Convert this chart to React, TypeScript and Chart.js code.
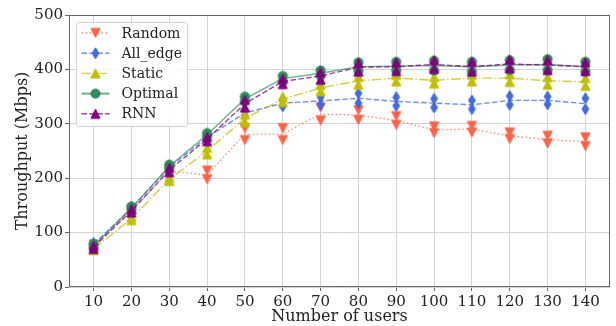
import { useEffect, useRef } from "react";
import { Chart, registerables } from "chart.js";

Chart.register(...registerables);

// ---------- data ----------
const users = [10, 20, 30, 40, 50, 60, 70, 80, 90, 100, 110, 120, 130, 140];
const yTicks = [0, 100, 200, 300, 400, 500];
const seriesNames = ["Random", "All_edge", "Static", "Optimal", "RNN"];

const randomMean = [75, 140, 213, 206, 281, 281, 318, 316, 306, 289, 290, 278, 271, 267];
const randomSpread = [3, 3, 3, 8, 11, 11, 12, 9, 8, 6, 6, 6, 7, 8];

const allEdgeMean = [78, 145, 220, 275, 320, 338, 342, 347, 341, 338, 335, 343, 343, 337];
const allEdgeSpread = [3, 3, 3, 4, 5, 6, 7, 9, 8, 8, 8, 8, 7, 10];

const staticMean = [70, 126, 198, 250, 310, 345, 366, 379, 384, 380, 384, 384, 379, 377];
const staticSpread = [2, 3, 3, 6, 7, 5, 6, 7, 6, 6, 6, 7, 7, 7];

const optimalMean = [76, 145, 222, 280, 346, 383, 393, 405, 406, 407, 405, 408, 409, 405];
const optimalSpread = [3, 3, 3, 3, 4, 5, 5, 8, 8, 9, 9, 9, 10, 9];

const rnnMean = [73, 140, 215, 272, 337, 378, 388, 404, 405, 409, 405, 410, 408, 405];
const rnnSpread = [3, 3, 4, 4, 7, 5, 7, 8, 8, 8, 9, 8, 9, 8];

const means = [randomMean, allEdgeMean, staticMean, optimalMean, rnnMean];
const spreads = [randomSpread, allEdgeSpread, staticSpread, optimalSpread, rnnSpread];

// ---------- styles ----------
const colors = ["#ff6347", "#4169e1", "#bfbf00", "#2e8b57", "#800080"];
const lineColors = [
  "rgba(255,99,71,0.7)",
  "rgba(65,105,225,0.75)",
  "rgba(191,191,0,0.75)",
  "rgba(46,139,87,0.7)",
  "rgba(128,0,128,0.75)",
];
const dashes = [[1.5, 2.5], [5.5, 2.4], [9.6, 2.4, 1.5, 2.4], [], [5.5, 2.4]];
const shapes = ["tri_down", "thin_diamond", "tri_up", "circle", "tri_up"];
const FONT = '"DejaVu Serif", serif';

function makeMarker(shape: string, color: string): HTMLCanvasElement {
  const c = document.createElement("canvas");
  c.width = 13;
  c.height = 13;
  const ctx = c.getContext("2d")!;
  ctx.fillStyle = color;
  ctx.strokeStyle = color;
  ctx.lineWidth = 1;
  ctx.beginPath();
  const m = 6.5;
  if (shape === "tri_up") {
    ctx.moveTo(m, m - 4.6);
    ctx.lineTo(m - 4.6, m + 4.6);
    ctx.lineTo(m + 4.6, m + 4.6);
    ctx.closePath();
  } else if (shape === "tri_down") {
    ctx.moveTo(m, m + 4.6);
    ctx.lineTo(m - 4.6, m - 4.6);
    ctx.lineTo(m + 4.6, m - 4.6);
    ctx.closePath();
  } else if (shape === "thin_diamond") {
    ctx.moveTo(m, m - 5.5);
    ctx.lineTo(m + 3.4, m);
    ctx.lineTo(m, m + 5.5);
    ctx.lineTo(m - 3.4, m);
    ctx.closePath();
  } else {
    ctx.arc(m, m, 4.6, 0, Math.PI * 2);
  }
  ctx.fill();
  ctx.stroke();
  return c;
}

export default function App() {
  const ref = useRef<HTMLCanvasElement | null>(null);

  useEffect(() => {
    if (!ref.current) return;
    const markers = shapes.map((s, i) => makeMarker(s, colors[i]));

    const datasets: any[] = [];
    seriesNames.forEach((name, i) => {
      datasets.push({
        label: name,
        data: users.map((x, k) => ({ x, y: means[i][k] })),
        borderColor: lineColors[i],
        borderWidth: 1.4,
        borderDash: dashes[i],
        pointRadius: 0,
        fill: false,
        tension: 0,
        order: (5 - i) * 2 + 1,
      });
      datasets.push({
        label: name + " markers",
        data: users.flatMap((x, k) => [
          { x, y: means[i][k] + spreads[i][k] },
          { x, y: means[i][k] - spreads[i][k] },
        ]),
        showLine: false,
        pointStyle: markers[i],
        pointRadius: 5,
        order: (5 - i) * 2,
      });
    });

    const framePlugin = {
      id: "frameLegend",
      afterDraw(chart: any) {
        const { ctx, chartArea } = chart;
        const { left, top, right, bottom } = chartArea;
        ctx.save();
        ctx.strokeStyle = "#666";
        ctx.lineWidth = 1;
        ctx.strokeRect(left + 0.5, top + 0.5, right - left - 1, bottom - top - 1);

        // legend
        const bx = left + 7.5, by = top + 7.5, bw = 111, bh = 104, r = 3;
        ctx.beginPath();
        ctx.moveTo(bx + r, by);
        ctx.lineTo(bx + bw - r, by);
        ctx.arcTo(bx + bw, by, bx + bw, by + r, r);
        ctx.lineTo(bx + bw, by + bh - r);
        ctx.arcTo(bx + bw, by + bh, bx + bw - r, by + bh, r);
        ctx.lineTo(bx + r, by + bh);
        ctx.arcTo(bx, by + bh, bx, by + bh - r, r);
        ctx.lineTo(bx, by + r);
        ctx.arcTo(bx, by, bx + r, by, r);
        ctx.closePath();
        ctx.fillStyle = "rgba(255,255,255,0.85)";
        ctx.fill();
        ctx.strokeStyle = "#d0d0d0";
        ctx.stroke();

        ctx.font = "14px " + FONT;
        ctx.textBaseline = "middle";
        ctx.textAlign = "left";
        seriesNames.forEach((name, i) => {
          const y = by + 10.5 + i * 20.2;
          ctx.beginPath();
          ctx.setLineDash(dashes[i]);
          ctx.strokeStyle = lineColors[i];
          ctx.lineWidth = i === 3 ? 2 : 1.4;
          ctx.moveTo(bx + 5, y);
          ctx.lineTo(bx + 33, y);
          ctx.stroke();
          ctx.setLineDash([]);
          const mk = markers[i];
          ctx.drawImage(mk, bx + 19 - mk.width / 2, y - mk.height / 2);
          ctx.fillStyle = "#222";
          ctx.fillText(name, bx + 45, y + 1);
        });
        ctx.restore();
      },
    };

    const chart = new Chart(ref.current, {
      type: "line",
      data: { datasets },
      options: {
        animation: false,
        responsive: false,
        devicePixelRatio: 1,
        layout: { padding: { top: 15, right: 3, left: 0, bottom: 0 } },
        plugins: { legend: { display: false }, tooltip: { enabled: false } },
        scales: {
          x: {
            type: "linear",
            min: 3.5,
            max: 146.5,
            afterBuildTicks: (s: any) => {
              s.ticks = users.map((v) => ({ value: v }));
            },
            afterFit: (s: any) => {
              s.height = 39;
            },
            grid: {
              color: "#d3d3d3",
              lineWidth: 1,
              drawTicks: true,
              tickLength: 4,
              tickColor: "#666",
            },
            border: { display: false },
            ticks: {
              color: "#222",
              font: { family: FONT, size: 15 },
              padding: 2,
              maxRotation: 0,
              autoSkip: false,
            },
            title: {
              display: true,
              text: "Number of users",
              color: "#222",
              font: { family: FONT, size: 16 },
              padding: { top: 0, bottom: 0 },
            },
          },
          y: {
            type: "linear",
            min: 0,
            max: 500,
            afterBuildTicks: (s: any) => {
              s.ticks = yTicks.map((v) => ({ value: v }));
            },
            afterFit: (s: any) => {
              s.width = 69;
            },
            grid: {
              color: "#d3d3d3",
              lineWidth: 1,
              drawTicks: true,
              tickLength: 4,
              tickColor: "#666",
            },
            border: { display: false },
            ticks: {
              color: "#222",
              font: { family: FONT, size: 15 },
              padding: 2,
            },
            title: {
              display: true,
              text: "Throughput (Mbps)",
              color: "#222",
              font: { family: FONT, size: 16 },
              padding: { top: 13, bottom: 0 },
            },
          },
        },
      },
      plugins: [framePlugin],
    } as any);

    return () => chart.destroy();
  }, []);

  return (
    <div style={{ position: "fixed", left: 0, top: 0, width: 616, height: 326 }}>
      <canvas ref={ref} width={616} height={326} style={{ display: "block" }} />
    </div>
  );
}
